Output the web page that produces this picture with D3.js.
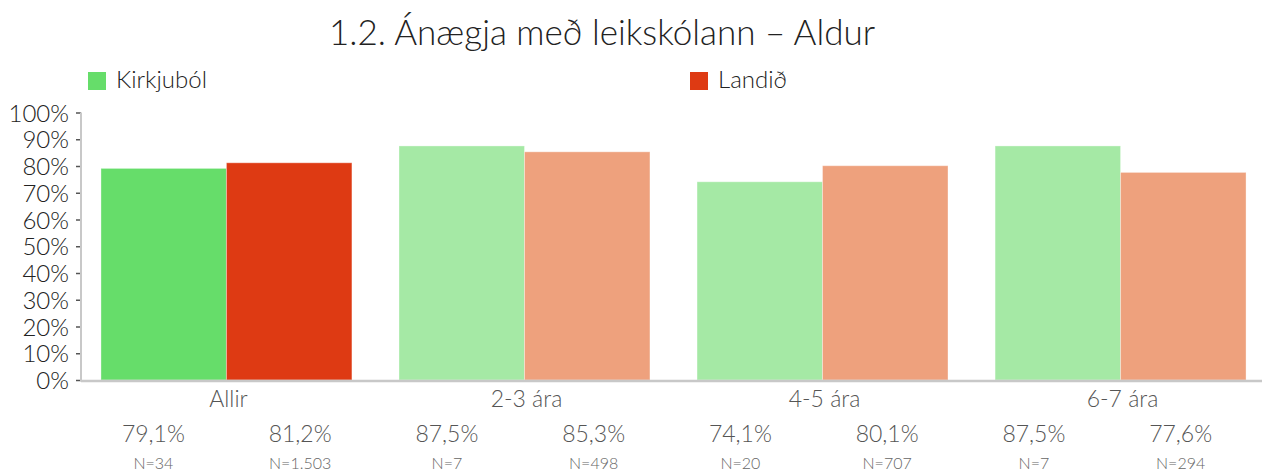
<!DOCTYPE html>
<html>
<head>
<meta charset="utf-8">
<script src="https://cdn.jsdelivr.net/npm/d3@7"></script>
<style>
  body { margin: 0; background: #fff; }
  text { font-family: Lato, "Open Sans", sans-serif; font-weight: 300; }
</style>
</head>
<body>
<div id="chart"></div>
<script>
// data
var categories = ["Allir", "2-3 ára", "4-5 ára", "6-7 ára"];
var seriesNames = ["Kirkjuból", "Landið"];
var kirkjubol = [79.1, 87.5, 74.1, 87.5];
var landid = [81.2, 85.3, 80.1, 77.6];
var kirkjubolN = ["34", "7", "20", "7"];
var landidN = ["1.503", "498", "707", "294"];
var yTicks = [0, 10, 20, 30, 40, 50, 60, 70, 80, 90, 100];

var width = 1274, height = 471;
var top0 = 112.5, bottom0 = 380;

// first group strong colours, rest faded
var strongCol = ["#66dd6a", "#de3a13"];
var lightCol = ["#a5e9a5", "#eea17d"];

var svg = d3.select("#chart").append("svg")
  .attr("width", width).attr("height", height);

svg.append("text")
  .attr("x", 602).attr("y", 45)
  .attr("text-anchor", "middle")
  .style("font-size", "35px")
  .style("fill", "#222")
  .text("1.2. Ánægja með leikskólann – Aldur");

// legend
var legendX = [88, 690];
seriesNames.forEach(function(name, i) {
  svg.append("rect")
    .attr("x", legendX[i]).attr("y", 72)
    .attr("width", 18).attr("height", 18)
    .style("fill", strongCol[i]);
  svg.append("text")
    .attr("x", legendX[i] + 28).attr("y", 88)
    .style("font-size", "24px")
    .style("fill", "#222")
    .text(name);
});

var y = d3.scaleLinear().domain([0, 100]).range([bottom0, top0]);

var x = d3.scaleBand().domain(categories)
  .range([81, 1266]).paddingInner(0.158).paddingOuter(0.067);
var xs = d3.scaleBand().domain([0, 1]).range([0, x.bandwidth()]);

// y axis
var yAxis = d3.axisLeft(y).tickValues(yTicks)
  .tickFormat(function(d) { return d + "%"; })
  .tickSize(5).tickPadding(7);
var ya = svg.append("g").attr("transform", "translate(81,0)").call(yAxis);
ya.select(".domain").remove();
ya.selectAll(".tick line").style("stroke", "#555").style("stroke-width", 1.5);
ya.selectAll(".tick text").style("font-size", "24px").style("fill", "#222")
  .style("font-family", null).style("font-weight", null)
  .attr("dy", "0.36em");

// axis lines
svg.append("line").attr("x1", 81).attr("x2", 81)
  .attr("y1", top0).attr("y2", bottom0 + 1)
  .style("stroke", "#c8c8c8").style("stroke-width", 2);

// bars
var rows = categories.map(function(c, i) {
  return { cat: c, i: i, vals: [kirkjubol[i], landid[i]] };
});

var groups = svg.selectAll("g.grp").data(rows).enter().append("g")
  .attr("class", "grp")
  .attr("transform", function(d) { return "translate(" + x(d.cat) + ",0)"; });

groups.selectAll("rect")
  .data(function(d) { return d.vals.map(function(v, s) { return { v: v, s: s, i: d.i }; }); })
  .enter().append("rect")
  .attr("x", function(d) { return xs(d.s); })
  .attr("width", xs.bandwidth())
  .attr("y", function(d) { return y(d.v); })
  .attr("height", function(d) { return bottom0 - y(d.v); })
  .style("fill", function(d) { return d.i === 0 ? strongCol[d.s] : lightCol[d.s]; })
  .style("stroke", "rgba(255,255,255,0.35)")
  .style("stroke-width", 1);

svg.append("line").attr("x1", 81).attr("x2", 1262)
  .attr("y1", bottom0 + 1).attr("y2", bottom0 + 1)
  .style("stroke", "#c8c8c8").style("stroke-width", 2.5);

// category labels
svg.selectAll("text.cat").data(categories).enter().append("text")
  .attr("class", "cat")
  .attr("x", function(d) { return x(d) + x.bandwidth() / 2 + 2; })
  .attr("y", 407)
  .attr("text-anchor", "middle")
  .style("font-size", "23px").style("fill", "#555")
  .text(function(d) { return d; });

// value table below
var cells = [];
categories.forEach(function(c, i) {
  cells.push({ v: kirkjubol[i], n: kirkjubolN[i] });
  cells.push({ v: landid[i], n: landidN[i] });
});
var xc = d3.scaleBand().domain(d3.range(cells.length)).range([80, 1254]);
var fmt = function(v) { return d3.format(".1f")(v).replace(".", ",") + "%"; };

svg.selectAll("text.val").data(cells).enter().append("text")
  .attr("class", "val")
  .attr("x", function(d, i) { return xc(i) + xc.bandwidth() / 2; })
  .attr("y", 442)
  .attr("text-anchor", "middle")
  .style("font-size", "23px").style("fill", "#555")
  .text(function(d) { return fmt(d.v); });

svg.selectAll("text.n").data(cells).enter().append("text")
  .attr("class", "n")
  .attr("x", function(d, i) { return xc(i) + xc.bandwidth() / 2; })
  .attr("y", 469)
  .attr("text-anchor", "middle")
  .style("font-size", "16px").style("fill", "#666")
  .text(function(d) { return "N=" + d.n; });
</script>
</body>
</html>
